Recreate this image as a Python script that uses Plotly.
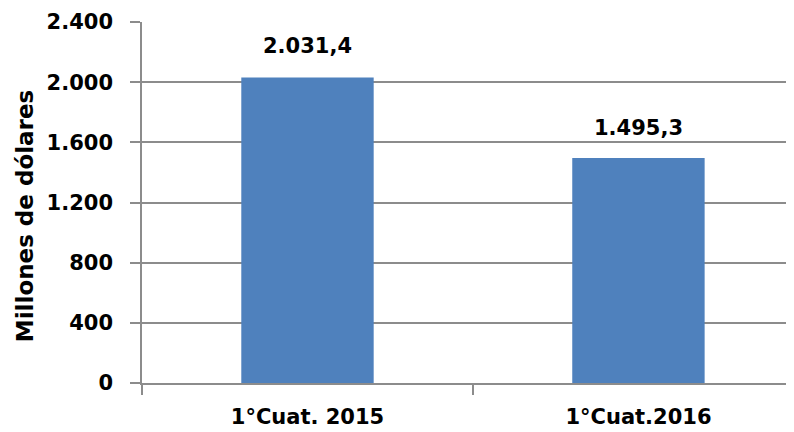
import plotly.graph_objects as go

categories = ["1°Cuat. 2015", "1°Cuat.2016"]
values = [2031.4, 1495.3]
y_ticks = [0, 400, 800, 1200, 1600, 2000, 2400]
y_title = "Millones de dólares"

FONT = "DejaVu Sans"
BAR = "#4F81BD"
GRID = "#8C8C8C"


def es_fmt(v):
    s = f"{v:,.1f}"
    return s.replace(",", "X").replace(".", ",").replace("X", ".")


fig = go.Figure()
fig.add_trace(go.Bar(
    x=categories, y=values, marker=dict(color=BAR, line=dict(width=0)),
    width=0.4, hoverinfo="skip",
))

for c, v, sh in zip(categories, values, [31, 30]):
    fig.add_annotation(
        x=c, y=v, text=es_fmt(v), showarrow=False,
        yanchor="middle", yshift=sh,
        font=dict(family=FONT, size=21, color="#000000", weight="bold"),
    )

fig.add_annotation(
    xref="paper", yref="paper", x=-0.179, y=0.463, text=y_title,
    textangle=-90, showarrow=False, xanchor="center", yanchor="middle",
    font=dict(family=FONT, size=23, color="#000000", weight="bold"),
)

fig.update_layout(
    width=786, height=424,
    margin=dict(l=134, r=0, t=14, b=49),
    plot_bgcolor="white", paper_bgcolor="white",
    showlegend=False,
    separators=",.",
    font=dict(family=FONT, size=21, color="#000000", weight="bold"),
)
fig.update_xaxes(
    range=[-0.5, 1.47], showgrid=False, showline=True, linecolor=GRID, linewidth=1.5,
    ticks="outside", tickson="boundaries", ticklen=10, tickcolor=GRID, tickwidth=1.5,
    ticklabelstandoff=14,
    tickfont=dict(family=FONT, size=21, color="#000000", weight="bold"),
)
fig.update_yaxes(
    range=[0, 2400], tickvals=y_ticks, tickformat=",.0f",
    showgrid=True, gridcolor=GRID, gridwidth=1.5,
    showline=True, linecolor=GRID, linewidth=1.5,
    ticks="outside", ticklen=10, tickcolor=GRID, tickwidth=1.5,
    ticklabelstandoff=13, zeroline=False,
    tickfont=dict(family=FONT, size=21, color="#000000", weight="bold"),
)

fig.write_html("out.html")
